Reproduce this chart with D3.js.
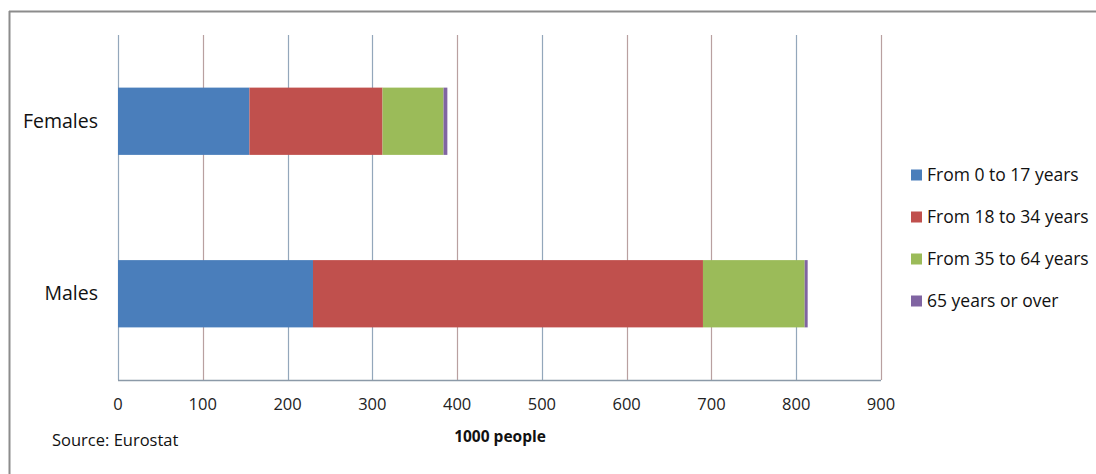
<!DOCTYPE html>
<html lang="en">
  <head>
    <meta charset="utf-8">
    <title>Population by sex and age</title>
    <script src="https://d3js.org/d3.v7.js"></script>
    <style>
      body { margin: 0; background: #fff; overflow: hidden; }
      text { font-family: "Open Sans", "Noto Sans", sans-serif; fill: #111; }
    </style>
  </head>

  <body>
    <svg></svg>

  <script>

// data (1000 people)

  const categories = ["Females", "Males"];
  const seriesNames = ["From 0 to 17 years", "From 18 to 34 years", "From 35 to 64 years", "65 years or over"];
  const colors = ["#4a7ebb", "#c0504d", "#9bbb59", "#8064a2"];
  const age0to17 = [155, 230];
  const age18to34 = [157, 460];
  const age35to64 = [72, 120];
  const age65plus = [4.5, 3.5];
  const xTicks = [0, 100, 200, 300, 400, 500, 600, 700, 800, 900];

  const w = 1096;
  const h = 474;
  const margin = {top: 35, left: 118, right: 215, bottom: 94};
  const innerWidth = w - margin.left - margin.right;
  const innerHeight = h - margin.top - margin.bottom;

  const svg = d3.select("svg")
      .attr("width", w)
      .attr("height", h)
      .style("display", "block");

// outer frame (only top and left edges are inside the picture)
  svg.append("line")
      .attr("x1", 9).attr("x2", w)
      .attr("y1", 11.5).attr("y2", 11.5)
      .attr("stroke", "#8c8c8c")
      .attr("stroke-width", 2);
  svg.append("line")
      .attr("x1", 9.5).attr("x2", 9.5)
      .attr("y1", 11).attr("y2", h)
      .attr("stroke", "#8c8c8c")
      .attr("stroke-width", 2);

  const rows = categories.map((c, i) => {
    const vals = [age0to17[i], age18to34[i], age35to64[i], age65plus[i]];
    let x0 = 0;
    return {cat: c, segs: vals.map((v, k) => { const s = {k: k, x0: x0, x1: x0 + v}; x0 += v; return s; })};
  });

// scales in page coordinates
  const xScale = d3.scaleLinear()
      .domain([0, 900])
      .range([margin.left, margin.left + innerWidth]);

  const yScale = d3.scaleBand()
      .domain(categories)
      .range([margin.top, margin.top + innerHeight])
      .paddingInner(0.61)
      .paddingOuter(0.305);

// gridlines
  svg.selectAll("line.grid")
      .data(xTicks)
    .enter().append("line")
      .attr("class", "grid")
      .attr("x1", d => Math.round(xScale(d)) + 0.5)
      .attr("x2", d => Math.round(xScale(d)) + 0.5)
      .attr("y1", margin.top)
      .attr("y2", margin.top + innerHeight)
      .attr("stroke", (d, i) => [1, 4, 6, 7, 9].includes(i) ? "#b9a0a0" : "#93a7bb")
      .attr("stroke-width", 1.2);

// bars
  svg.selectAll("rect.bar")
      .data(rows.flatMap(r => r.segs.map(s => Object.assign({cat: r.cat}, s))))
    .enter().append("rect")
      .attr("class", "bar")
      .attr("x", d => xScale(d.x0))
      .attr("y", d => yScale(d.cat))
      .attr("width", d => xScale(d.x1) - xScale(d.x0))
      .attr("height", yScale.bandwidth())
      .attr("fill", d => colors[d.k]);

// x axis line
  svg.append("line")
      .attr("x1", xScale(0))
      .attr("x2", xScale(900))
      .attr("y1", margin.top + innerHeight + 0.5)
      .attr("y2", margin.top + innerHeight + 0.5)
      .attr("stroke", "#8c9aa8")
      .attr("stroke-width", 1.5);

// tick labels
  xTicks.forEach(d => {
    svg.append("text")
        .attr("x", xScale(d))
        .attr("y", margin.top + innerHeight + 30)
        .attr("text-anchor", "middle")
        .style("font-size", "16.5px")
        .style("fill", "#222")
        .text(d);
  });

  categories.forEach(d => {
    svg.append("text")
        .attr("x", margin.left - 20)
        .attr("y", yScale(d) + yScale.bandwidth() / 2 + 6.5)
        .attr("text-anchor", "end")
        .style("font-size", "19.5px")
        .text(d);
  });

// axis title and source
  svg.append("text")
      .attr("x", 500)
      .attr("y", 442)
      .attr("text-anchor", "middle")
      .style("font-size", "15.5px")
      .style("font-weight", "bold")
      .text("1000 people");

  svg.append("text")
      .attr("x", 52)
      .attr("y", 446)
      .style("font-size", "16.5px")
      .text("Source: Eurostat");

// legend
  const legendX = 911, legendY = 175, legendStep = 42;

  seriesNames.forEach((d, i) => {
    svg.append("rect")
        .attr("x", legendX)
        .attr("y", legendY + i * legendStep - 5.5)
        .attr("width", 11)
        .attr("height", 11)
        .attr("fill", colors[i]);
    svg.append("text")
        .attr("x", legendX + 16)
        .attr("y", legendY + i * legendStep + 6)
        .style("font-size", "17.5px")
        .text(d);
  });

    </script>

  </body>

</html>
